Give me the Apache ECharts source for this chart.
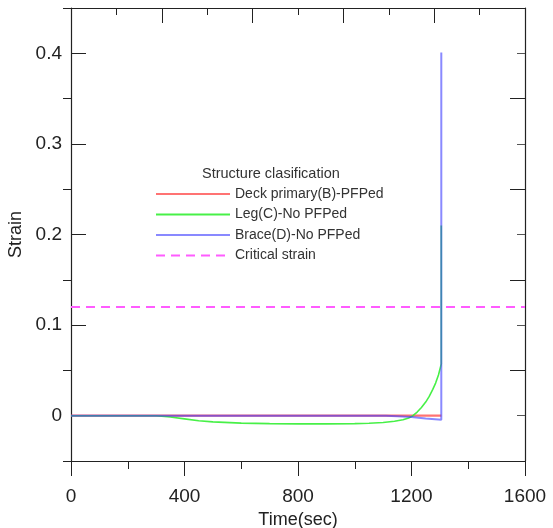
<!DOCTYPE html>
<html>
<head>
<meta charset="utf-8">
<script src="https://cdn.jsdelivr.net/npm/echarts@6/dist/echarts.min.js"></script>
<style>
html,body{margin:0;padding:0;background:#fff;}
#main{width:553px;height:528px;}
</style>
</head>
<body>
<div id="main"></div>
<script>
// ---- data ----
const seriesNames = ['Deck primary(B)-PFPed', 'Leg(C)-No PFPed', 'Brace(D)-No PFPed', 'Critical strain'];
const deckTime = [0, 1305];
const deckStrain = [0, 0];
const legTime = [0, 300, 350, 400, 450, 500, 600, 700, 800, 900, 1000, 1050, 1100, 1140, 1170, 1190, 1205, 1220, 1235, 1250, 1262, 1275, 1285, 1295, 1305, 1305];
const legStrain = [0, 0, -0.0015, -0.0035, -0.0055, -0.0068, -0.0082, -0.0088, -0.009, -0.009, -0.0087, -0.0083, -0.0075, -0.0062, -0.0045, -0.0025, 0, 0.004, 0.009, 0.015, 0.021, 0.029, 0.036, 0.045, 0.057, 0.21];
const braceTime = [0, 1110, 1150, 1200, 1250, 1305, 1305];
const braceStrain = [0, 0, -0.0005, -0.0015, -0.003, -0.0045, 0.401];
const criticalTime = [0, 1600];
const criticalStrain = [0.12, 0.12];
const yLabelTicks = [0, 0.1, 0.2, 0.3, 0.4];
const yMinorTicks = [-0.05, 0.05, 0.15, 0.25, 0.35, 0.45];

const zip = (xs, ys) => xs.map((x, i) => [x, ys[i]]);
const font = "'Liberation Sans', Arial, sans-serif";
const axisCol = '#222';
const gridPos = {left: 71, right: 28, top: 8, bottom: 67, containLabel: false, outerBoundsMode: 'none'};

const chart = echarts.init(document.getElementById('main'), null, {renderer: 'canvas'});
const lineCommon = {type: 'line', showSymbol: false, symbol: 'none', xAxisIndex: 0, yAxisIndex: 0,
  animation: false, itemStyle: {opacity: 0}};

const hiddenX = (g) => ({type: 'value', gridIndex: g, min: 0, max: 1600, show: false});

chart.setOption({
  animation: false,
  title: {
    text: 'Structure clasification', left: 197, top: 161,
    textStyle: {fontFamily: font, fontSize: 14.5, fontWeight: 'normal', color: '#333'}
  },
  legend: {
    data: seriesNames, orient: 'vertical', left: 150, top: 182,
    itemWidth: 74, itemHeight: 14, itemGap: 6.5,
    itemStyle: {opacity: 0},
    textStyle: {fontFamily: font, fontSize: 14, color: '#333'}
  },
  grid: [gridPos, gridPos, gridPos, gridPos].map(g => Object.assign({}, g)),
  xAxis: [
    {
      type: 'value', gridIndex: 0, position: 'bottom', min: 0, max: 1600, interval: 400,
      axisLine: {onZero: false, lineStyle: {color: axisCol, width: 1.2}},
      axisTick: {inside: false, length: 15, lineStyle: {color: axisCol}},
      minorTick: {show: true, splitNumber: 2, length: 8, lineStyle: {color: axisCol}},
      splitLine: {show: false},
      axisLabel: {fontFamily: font, fontSize: 19, color: '#222', margin: 26, formatter: v => String(v)},
      name: 'Time(sec)', nameLocation: 'middle', nameGap: 46,
      nameTextStyle: {fontFamily: font, fontSize: 18, color: '#222'}
    },
    {
      type: 'value', gridIndex: 1, position: 'top', min: 0, max: 1600, interval: 320,
      axisLine: {onZero: false, lineStyle: {color: axisCol, width: 1.2}},
      axisTick: {inside: true, length: 15, lineStyle: {color: axisCol}},
      minorTick: {show: true, splitNumber: 2, length: 7, lineStyle: {color: axisCol}},
      splitLine: {show: false}, axisLabel: {show: false}
    },
    hiddenX(2), hiddenX(3)
  ],
  yAxis: [
    {
      type: 'value', gridIndex: 0, position: 'left', min: -0.05, max: 0.45,
      axisLine: {show: true, onZero: false, lineStyle: {color: axisCol, width: 1.2}},
      axisTick: {show: true, inside: true, length: 15, customValues: yLabelTicks, lineStyle: {color: axisCol}},
      axisLabel: {customValues: yLabelTicks, fontFamily: font, fontSize: 19, color: '#222', margin: 9,
        formatter: v => (Math.abs(v) < 1e-9 ? '0' : String(+v.toFixed(2)))},
      splitLine: {show: false},
      name: 'Strain', nameLocation: 'middle', nameGap: 41,
      nameTextStyle: {fontFamily: font, fontSize: 18, color: '#222'}
    },
    {
      type: 'value', gridIndex: 1, position: 'right', min: -0.05, max: 0.45,
      axisLine: {show: true, onZero: false, lineStyle: {color: axisCol, width: 1.2}},
      axisTick: {show: true, inside: true, length: 15, customValues: [0.05, 0.15, 0.25, 0.35], lineStyle: {color: axisCol}},
      axisLabel: {show: false}, splitLine: {show: false}
    },
    {
      type: 'value', gridIndex: 2, position: 'left', min: -0.05, max: 0.45,
      axisLine: {show: false, onZero: false},
      axisTick: {show: true, inside: false, length: 8, customValues: yMinorTicks, lineStyle: {color: axisCol}},
      axisLabel: {show: false}, splitLine: {show: false}
    },
    {
      type: 'value', gridIndex: 3, position: 'right', min: -0.05, max: 0.45,
      axisLine: {show: false, onZero: false},
      axisTick: {show: true, inside: true, length: 8, customValues: yLabelTicks, lineStyle: {color: '#555'}},
      axisLabel: {show: false}, splitLine: {show: false}
    }
  ],
  series: [
    Object.assign({}, lineCommon, {name: seriesNames[0], data: zip(deckTime, deckStrain), color: '#ff5a5a',
      lineStyle: {width: 2.2, color: '#ff5a5a', opacity: 0.85}}),
    Object.assign({}, lineCommon, {name: seriesNames[1], data: zip(legTime, legStrain), color: '#33ee33',
      lineStyle: {width: 1.6, color: '#33ee33', opacity: 0.9}}),
    Object.assign({}, lineCommon, {name: seriesNames[2], data: zip(braceTime, braceStrain), color: '#3a3aff',
      lineStyle: {width: 2, color: '#3a3aff', opacity: 0.6}}),
    Object.assign({}, lineCommon, {name: seriesNames[3], data: zip(criticalTime, criticalStrain), color: '#ff5cff',
      lineStyle: {width: 1.8, color: '#ff5cff', type: [9, 6]}})
  ]
});
</script>
</body>
</html>
